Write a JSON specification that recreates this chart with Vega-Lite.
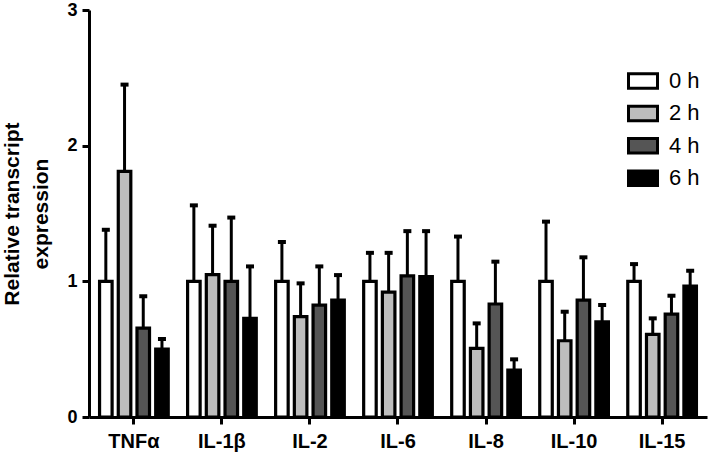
{
  "$schema": "https://vega.github.io/schema/vega-lite/v6.json",
  "width": 618,
  "height": 407,
  "autosize": {"type": "none"},
  "padding": {"left": 89, "top": 10, "right": 2, "bottom": 40},
  "background": "white",
  "config": {
    "view": {"stroke": null},
    "font": "Liberation Sans"
  },
  "data": {
    "values": [
      {"gene": "TNFα", "time": "0 h", "mean": 1.0, "upper": 1.38},
      {"gene": "TNFα", "time": "2 h", "mean": 1.81, "upper": 2.45},
      {"gene": "TNFα", "time": "4 h", "mean": 0.655, "upper": 0.89},
      {"gene": "TNFα", "time": "6 h", "mean": 0.5, "upper": 0.575},
      {"gene": "IL-1β", "time": "0 h", "mean": 1.0, "upper": 1.56},
      {"gene": "IL-1β", "time": "2 h", "mean": 1.05, "upper": 1.41},
      {"gene": "IL-1β", "time": "4 h", "mean": 1.0, "upper": 1.47},
      {"gene": "IL-1β", "time": "6 h", "mean": 0.727, "upper": 1.11},
      {"gene": "IL-2", "time": "0 h", "mean": 1.0, "upper": 1.29},
      {"gene": "IL-2", "time": "2 h", "mean": 0.74, "upper": 0.985},
      {"gene": "IL-2", "time": "4 h", "mean": 0.825, "upper": 1.11},
      {"gene": "IL-2", "time": "6 h", "mean": 0.862, "upper": 1.046},
      {"gene": "IL-6", "time": "0 h", "mean": 1.0, "upper": 1.21},
      {"gene": "IL-6", "time": "2 h", "mean": 0.92, "upper": 1.21},
      {"gene": "IL-6", "time": "4 h", "mean": 1.04, "upper": 1.37},
      {"gene": "IL-6", "time": "6 h", "mean": 1.034, "upper": 1.37},
      {"gene": "IL-8", "time": "0 h", "mean": 1.0, "upper": 1.33},
      {"gene": "IL-8", "time": "2 h", "mean": 0.506, "upper": 0.69},
      {"gene": "IL-8", "time": "4 h", "mean": 0.833, "upper": 1.145},
      {"gene": "IL-8", "time": "6 h", "mean": 0.346, "upper": 0.425},
      {"gene": "IL-10", "time": "0 h", "mean": 1.0, "upper": 1.44},
      {"gene": "IL-10", "time": "2 h", "mean": 0.562, "upper": 0.776},
      {"gene": "IL-10", "time": "4 h", "mean": 0.862, "upper": 1.177},
      {"gene": "IL-10", "time": "6 h", "mean": 0.702, "upper": 0.825},
      {"gene": "IL-15", "time": "0 h", "mean": 1.0, "upper": 1.127},
      {"gene": "IL-15", "time": "2 h", "mean": 0.609, "upper": 0.727},
      {"gene": "IL-15", "time": "4 h", "mean": 0.759, "upper": 0.894},
      {"gene": "IL-15", "time": "6 h", "mean": 0.965, "upper": 1.078}
    ]
  },
  "encoding": {
    "x": {
      "field": "gene",
      "type": "nominal",
      "sort": null,
      "scale": {"paddingInner": 0.22, "paddingOuter": 0.12},
      "axis": {
        "title": null,
        "labelAngle": 0,
        "labelFont": "Liberation Sans",
        "labelFontWeight": "bold",
        "labelFontSize": 20,
        "labelColor": "black",
        "labelPadding": 7,
        "domainColor": "black",
        "domainWidth": 3,
        "tickColor": "black",
        "tickWidth": 3,
        "tickSize": 7
      }
    },
    "xOffset": {
      "field": "time",
      "type": "nominal",
      "scale": {"paddingInner": 0.33, "paddingOuter": 0}
    }
  },
  "layer": [
    {
      "mark": {"type": "rule", "strokeWidth": 3, "color": "black"},
      "encoding": {
        "y": {"field": "mean", "type": "quantitative"},
        "y2": {"field": "upper"}
      }
    },
    {
      "mark": {"type": "tick", "thickness": 4, "size": 8, "color": "black", "opacity": 1},
      "encoding": {
        "y": {"field": "upper", "type": "quantitative"}
      }
    },
    {
      "mark": {"type": "bar", "stroke": "black", "strokeWidth": 3.2, "opacity": 1},
      "encoding": {
        "y": {
          "field": "mean",
          "type": "quantitative",
          "scale": {"domain": [0, 3], "nice": false},
          "axis": {
            "title": ["Relative transcript", "expression"],
            "titleFont": "Liberation Sans",
            "titleFontWeight": "bold",
            "titleFontSize": 21,
            "titleColor": "black",
            "titlePadding": 15,
            "titleLineHeight": 29,
            "values": [0, 1, 2, 3],
            "format": "d",
            "grid": false,
            "labelFont": "Liberation Sans",
            "labelFontWeight": "bold",
            "labelFontSize": 18,
            "labelColor": "black",
            "labelPadding": 5,
            "domainColor": "black",
            "domainWidth": 3,
            "tickColor": "black",
            "tickWidth": 3,
            "tickSize": 7
          }
        },
        "fill": {
          "field": "time",
          "type": "nominal",
          "scale": {"domain": ["0 h", "2 h", "4 h", "6 h"], "range": ["#ffffff", "#bdbdbd", "#555555", "#000000"]},
          "legend": {
            "title": null,
            "orient": "none",
            "legendX": 538,
            "legendY": 55,
            "symbolType": "M-1,-0.5H1V0.5H-1Z",
            "symbolSize": 841,
            "symbolStrokeColor": "black",
            "symbolStrokeWidth": 3,
            "symbolOpacity": 1,
            "rowPadding": 2.4,
            "labelFont": "Liberation Sans",
            "labelFontSize": 22,
            "labelColor": "black",
            "labelOffset": 10
          }
        }
      }
    }
  ]
}
